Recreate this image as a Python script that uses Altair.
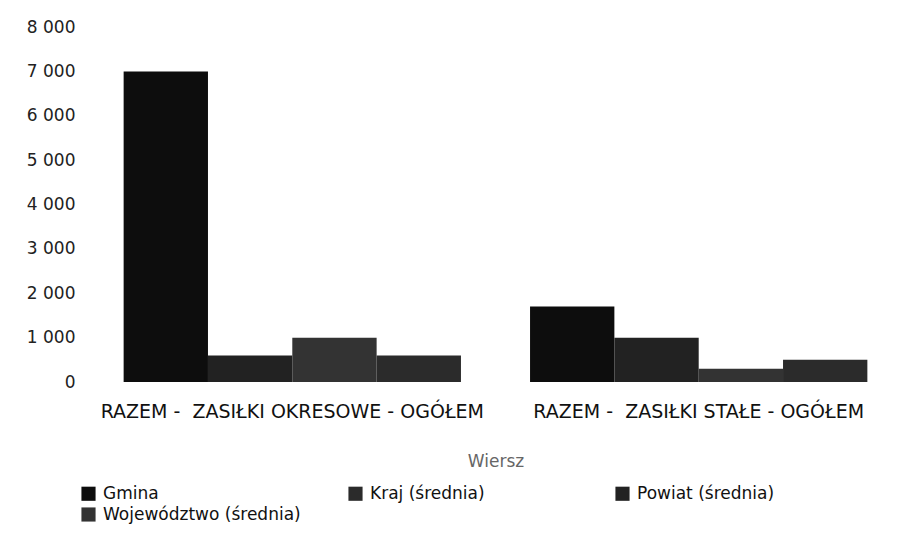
import altair as alt
import pandas as pd

rows = ["RAZEM -\u00a0 ZASIŁKI OKRESOWE - OGÓŁEM", "RAZEM -\u00a0 ZASIŁKI STAŁE - OGÓŁEM"]
series = ["Gmina", "Powiat (średnia)", "Województwo (średnia)", "Kraj (średnia)"]
values_okresowe = [7000, 600, 1000, 600]
values_stale = [1700, 1000, 300, 500]

data = []
for s, v in zip(series, values_okresowe):
    data.append({"Wiersz": rows[0], "Seria": s, "Wartość": v})
for s, v in zip(series, values_stale):
    data.append({"Wiersz": rows[1], "Seria": s, "Wartość": v})
df = pd.DataFrame(data)

legend_order = ["Gmina", "Kraj (średnia)", "Powiat (średnia)", "Województwo (średnia)"]
colors = ["#0d0d0d", "#2b2b2b", "#222222", "#333333"]

FONT = "DejaVu Sans"

chart = alt.Chart(df).mark_bar().encode(
    x=alt.X("Wiersz:N", sort=rows,
            scale=alt.Scale(paddingInner=0.17, paddingOuter=0.1),
            axis=alt.Axis(title="Wiersz", labelAngle=0, labelFontSize=19, labelColor="#111",
                          labelFont=FONT, labelPadding=20, ticks=False, domain=False,
                          titleFont=FONT, titleFontSize=17, titleFontWeight="normal",
                          titleColor="#666", titlePadding=32, labelLimit=500)),
    xOffset=alt.XOffset("Seria:N", sort=series),
    y=alt.Y("Wartość:Q", scale=alt.Scale(domain=[0, 8000]),
            axis=alt.Axis(title=None, values=[0, 1000, 2000, 3000, 4000, 5000, 6000, 7000, 8000],
                          labelExpr="replace(format(datum.value, ','), ',', ' ')",
                          labelFontSize=17, labelColor="#222", labelFont=FONT,
                          ticks=False, domain=False, grid=False, labelPadding=8)),
    color=alt.Color("Seria:N", sort=legend_order,
                    scale=alt.Scale(domain=legend_order, range=colors),
                    legend=alt.Legend(title=None, orient="none", legendX=-3, legendY=458,
                                      columns=3, direction="horizontal", gridAlign="all",
                                      symbolType="square", symbolSize=200, symbolStrokeWidth=0,
                                      labelFont=FONT, labelFontSize=17, labelColor="#111",
                                      columnPadding=46, rowPadding=3, labelOffset=6,
                                      labelLimit=300)),
).properties(
    width=825,
    height=355,
    autosize=alt.AutoSizeParams(type="none"),
    padding={"left": 75, "top": 19, "right": 6, "bottom": 144},
).configure(background="white").configure_view(strokeWidth=0)

chart.save("out.html", embed_options={"renderer": "svg", "actions": False})
